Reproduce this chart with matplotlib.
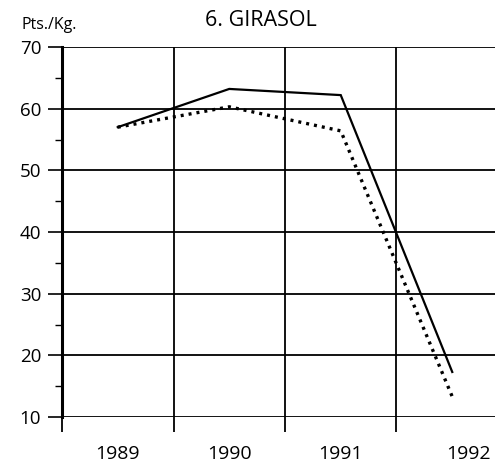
import matplotlib.pyplot as plt
import numpy as np

# data
years = ["1989", "1990", "1991", "1992"]
solid = [57.0, 63.2, 62.2, 17.3]
dotted = [57.0, 60.3, 56.4, 13.3]
yticks = [10, 20, 30, 40, 50, 60, 70]

plt.rcParams['font.family'] = ['Open Sans', 'DejaVu Sans']

fig = plt.figure(figsize=(4.95, 4.68), dpi=100, facecolor='white')
ax = fig.add_axes([62/495, 1 - 417/468, 1 - 62/495, (417 - 47)/468])

x = np.arange(len(years)) + 0.5
ax.plot(x, solid, color="black", linewidth=1.6, solid_joinstyle='miter', clip_on=False)
ax.plot(x, dotted, color="black", linewidth=2.4, linestyle=(0, (0.9, 1.5)), clip_on=False)

ax.set_xlim(0, (495 - 62) / 111.5)
ax.set_ylim(10, 70)

# horizontal grid lines
for v in yticks:
    ax.axhline(v, color="black", linewidth=1.3, zorder=0)
# vertical boundaries between years
for b in range(1, len(years)):
    ax.axvline(b, color="black", linewidth=1.3, zorder=0)

for s in ["top", "right", "bottom"]:
    ax.spines[s].set_visible(False)
ax.spines["left"].set_linewidth(2.2)

ax.set_yticks(yticks)
ax.set_yticks([15, 25, 35, 45, 55, 65], minor=True)
ax.tick_params(axis='y', which='major', length=10, width=1.2, labelsize=13.5, pad=5)
ax.tick_params(axis='y', which='minor', length=5, width=1.0)

ax.set_xticks([0, 1, 2, 3])
ax.set_xticklabels([])
ax.tick_params(axis='x', which='major', length=11, width=1.3)
ax.set_xticks([0.5, 1.5, 2.5, 3.65], minor=True)
ax.set_xticklabels(years, minor=True, fontsize=14)
ax.tick_params(axis='x', which='minor', length=0, pad=20)

fig.text(261/495, 1 - 21/468, "6. GIRASOL", ha="center", va="center", fontsize=15.5)
fig.text(49/495, 1 - 25/468, "Pts./Kg.", ha="center", va="center", fontsize=11.5)

plt.savefig("out.png", dpi=100, facecolor='white')
